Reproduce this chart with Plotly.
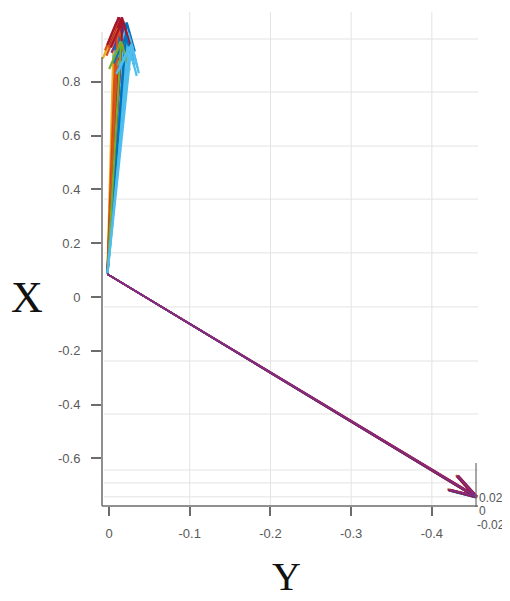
import math
import plotly.graph_objects as go

# ---------------- data ----------------
series = [f"s{i+1}" for i in range(16)]
start_Y = [0.002] * 16
start_X = [0.085] * 16
up_tip_Y = [-0.006, -0.009, -0.012, -0.014, -0.016, -0.018, -0.020, -0.022,
            -0.024, -0.026, -0.011, -0.017, -0.021, -0.015, -0.025, -0.028]
up_tip_X = [0.99, 1.02, 1.04, 1.03, 1.04, 1.01, 0.99, 1.02,
            0.98, 0.96, 1.00, 1.03, 0.97, 0.95, 0.93, 0.94]
down_tip_Y = [-0.455, -0.454, -0.456, -0.453, -0.455, -0.456, -0.454, -0.455,
              -0.453, -0.456, -0.454, -0.455, -0.456, -0.455, -0.454, -0.455]
down_tip_X = [-0.743, -0.740, -0.746, -0.742, -0.744, -0.741, -0.745, -0.743,
              -0.739, -0.744, -0.742, -0.746, -0.741, -0.743, -0.744, -0.742]

x_tick_vals = [0, -0.1, -0.2, -0.3, -0.4]
x_tick_text = ["0", "-0.1", "-0.2", "-0.3", "-0.4"]
y_tick_vals = [0.8, 0.6, 0.4, 0.2, 0, -0.2, -0.4, -0.6]
y_tick_text = ["0.8", "0.6", "0.4", "0.2", "0", "-0.2", "-0.4", "-0.6"]
h_grid_vals = [0.959, 0.762, 0.561, 0.364, 0.164, -0.037, -0.238, -0.435,
               -0.643, -0.691, -0.743]
v_grid_vals = [-0.1, -0.2, -0.3, -0.4]
z_tick_text = ["0.02", "0", "-0.02"]

# ---------------- styling ----------------
up_colors = ["#EDB120", "#D95319", "#A2142F", "#D95319", "#A2142F", "#7E2F8E",
             "#4DBEEE", "#0072BD", "#4DBEEE", "#4DBEEE", "#D95319", "#A2142F",
             "#0072BD", "#77AC30", "#4DBEEE", "#4DBEEE"]
down_colors = ["#EDB120", "#77AC30", "#4DBEEE", "#D95319", "#0072BD", "#A2142F",
               "#7E2F8E", "#0072BD", "#D95319", "#7E2F8E", "#A2142F", "#0072BD",
               "#A2142F", "#7E2F8E", "#A2142F", "#7E2F8E"]

# page body has an 8 px margin, so the figure is shifted by 8 px
OFF = 8
W, H = 510 - OFF, 601 - OFF
L_M, R_M, T_M, B_M = 102 - OFF, 32, 12 - OFF, 95
PW, PH = W - L_M - R_M, H - T_M - B_M
x_range = [0.0087, -0.4572]
y_range = [-0.777, 1.0595]
px_per_x = PW / (x_range[0] - x_range[1])   # screen right = more negative
px_per_y = PH / (y_range[1] - y_range[0])


def py2paper(py):
    """page pixel y -> paper fraction"""
    return (T_M + PH - (py - OFF)) / PH


def px2paper(px):
    return ((px - OFF) - L_M) / PW


def arrow(x0, y0, x1, y1, length=28, ang=18):
    dx = -(x1 - x0) * px_per_x
    dy = (y1 - y0) * px_per_y
    n = math.hypot(dx, dy)
    ux, uy = dx / n, dy / n
    xs = [x0, x1, None]
    ys = [y0, y1, None]
    for s in (1, -1):
        a = math.radians(ang) * s
        rx = ux * math.cos(a) - uy * math.sin(a)
        ry = ux * math.sin(a) + uy * math.cos(a)
        bx = x1 + (rx * length) / px_per_x
        by = y1 - (ry * length) / px_per_y
        xs += [x1, bx, None]
        ys += [y1, by, None]
    return xs, ys


fig = go.Figure()

for i, name in enumerate(series):
    ux, uy = arrow(start_Y[i], start_X[i], up_tip_Y[i], up_tip_X[i], length=30, ang=20)
    fig.add_trace(go.Scatter(
        x=ux, y=uy, mode="lines", name=name,
        line=dict(color=up_colors[i], width=2.2), hoverinfo="skip", showlegend=False))
for i, name in enumerate(series):
    dx, dy = arrow(start_Y[i], start_X[i], down_tip_Y[i], down_tip_X[i], length=28, ang=17)
    fig.add_trace(go.Scatter(
        x=dx, y=dy, mode="lines", name=name,
        line=dict(color=down_colors[i], width=1.6), hoverinfo="skip", showlegend=False))

shapes = []
grid_col = "#e3e3e3"
for v in h_grid_vals:
    shapes.append(dict(type="line", xref="paper", yref="y", x0=0.005, x1=1.0,
                       y0=v, y1=v, line=dict(color=grid_col, width=1), layer="below"))
for v in v_grid_vals:
    shapes.append(dict(type="line", xref="x", yref="paper", x0=v, x1=v,
                       y0=0, y1=1, line=dict(color=grid_col, width=1), layer="below"))
# axis lines
axis_col = "#6b6b6b"
shapes.append(dict(type="line", xref="paper", yref="paper", x0=0, x1=0,
                   y0=0, y1=py2paper(57), line=dict(color=axis_col, width=1.5)))
shapes.append(dict(type="line", xref="paper", yref="paper", x0=0, x1=0,
                   y0=py2paper(57), y1=py2paper(32), line=dict(color="#d0d0d0", width=1)))
shapes.append(dict(type="line", xref="paper", yref="paper", x0=0, x1=1,
                   y0=0, y1=0, line=dict(color=axis_col, width=1.5)))
# z-axis stub
shapes.append(dict(type="line", xref="paper", yref="paper", x0=px2paper(476), x1=px2paper(476),
                   y0=py2paper(507), y1=py2paper(463), line=dict(color=axis_col, width=1.2)))

annotations = [
    dict(text="X", xref="paper", yref="paper", x=px2paper(27), y=py2paper(297),
         showarrow=False, font=dict(family="Liberation Serif", size=44, color="#111"),
         xanchor="center", yanchor="middle"),
    dict(text="Y", xref="paper", yref="paper", x=px2paper(286), y=py2paper(600),
         showarrow=False, font=dict(family="Liberation Serif", size=40, color="#111"),
         xanchor="center", yanchor="bottom", borderpad=0),
]
for txt, py, px in zip(z_tick_text, [498, 511, 525], [477, 477, 475]):
    annotations.append(dict(text=txt, xref="paper", yref="paper",
                            x=px2paper(px), y=py2paper(py), showarrow=False,
                            font=dict(family="Liberation Sans", size=12, color="#555"),
                            xanchor="left", yanchor="middle"))

tick_font = dict(family="Liberation Sans", size=13, color="#5a5a5a")
fig.update_layout(
    width=W, height=H,
    margin=dict(l=L_M, r=R_M, t=T_M, b=B_M),
    paper_bgcolor="white", plot_bgcolor="white",
    showlegend=False,
    shapes=shapes, annotations=annotations,
    xaxis=dict(range=x_range, showgrid=False, zeroline=False, showline=False,
               tickvals=x_tick_vals, ticktext=x_tick_text, ticks="outside",
               ticklen=9, tickcolor=axis_col, tickwidth=1.5,
               ticklabelstandoff=6, tickfont=tick_font),
    yaxis=dict(range=y_range, showgrid=False, zeroline=False, showline=False,
               tickvals=y_tick_vals, ticktext=y_tick_text, ticks="outside",
               ticklen=10, tickcolor=axis_col, tickwidth=1.5,
               ticklabelstandoff=8, tickfont=tick_font),
)

fig.write_html("out.html")
